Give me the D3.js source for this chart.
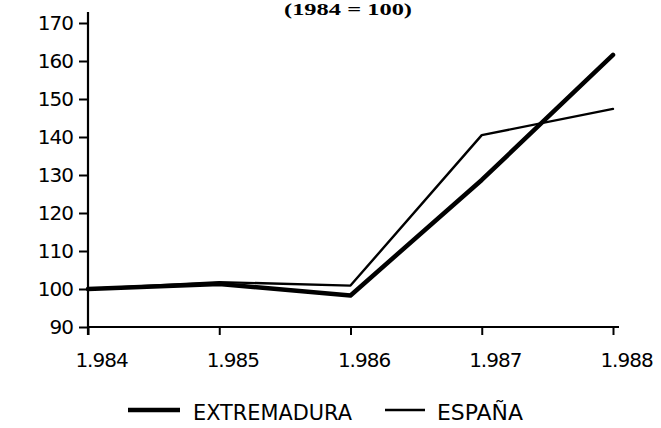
<!DOCTYPE html>
<html>
<head>
<meta charset="utf-8">
<script src="https://cdn.jsdelivr.net/npm/d3@7"></script>
<style>
  html, body { margin: 0; padding: 0; background: #fff; }
  svg { display: block; }
</style>
</head>
<body>
<svg id="chart" width="661" height="428"></svg>
<script>
const years = [1984, 1985, 1986, 1987, 1988];
const yearLabels = ["1.984", "1.985", "1.986", "1.987", "1.988"];
const extremadura = [100, 101.3, 98.3, 128.7, 161.6];
const espana = [100, 101.8, 100.9, 140.5, 147.4];
const yTicks = [90, 100, 110, 120, 130, 140, 150, 160, 170];
const seriesNames = ["EXTREMADURA", "ESPAÑA"];
const title = "(1984 = 100)";

const svg = d3.select("#chart");
const font = "'DejaVu Sans', Lato, sans-serif";

const x = d3.scaleLinear().domain([1984, 1988]).range([88, 613]);
const y = d3.scaleLinear().domain([90, 170]).range([327, 23]);

// title (at the top edge, as in the reference)
svg.append("text")
  .attr("x", 348).attr("y", 15)
  .attr("text-anchor", "middle")
  .attr("font-family", "'Liberation Serif', 'Times New Roman', serif")
  .attr("font-weight", "bold")
  .attr("font-size", 16)
  .attr("fill", "#000")
  .attr("textLength", 128).attr("lengthAdjust", "spacingAndGlyphs")
  .text(title);

// y axis
const yAxis = d3.axisLeft(y).tickValues(yTicks).tickSize(9).tickSizeOuter(0).tickPadding(6);
const gy = svg.append("g").attr("transform", "translate(88,0)").call(yAxis);
gy.select(".domain").remove();
gy.selectAll(".tick line").attr("stroke", "#000").attr("stroke-width", 2);
gy.selectAll(".tick text")
  .attr("font-family", font).attr("font-size", 20).attr("fill", "#000")
  .attr("letter-spacing", -1);
svg.append("line")
  .attr("x1", 88).attr("x2", 88).attr("y1", 12).attr("y2", y(90) + 8)
  .attr("stroke", "#000").attr("stroke-width", 2.2);

// x axis
const xAxis = d3.axisBottom(x).tickValues(years).tickSize(8).tickSizeOuter(0)
  .tickFormat((d, i) => yearLabels[i]).tickPadding(18);
const gx = svg.append("g").attr("transform", `translate(0,${y(90)})`).call(xAxis);
gx.select(".domain").remove();
gx.selectAll(".tick line").attr("stroke", "#000").attr("stroke-width", 2);
gx.selectAll(".tick text")
  .attr("font-family", font).attr("font-size", 20).attr("fill", "#000")
  .attr("letter-spacing", -1)
  .attr("dx", 13);
svg.append("line")
  .attr("x1", 88).attr("x2", 619).attr("y1", y(90)).attr("y2", y(90))
  .attr("stroke", "#000").attr("stroke-width", 2.2);

// lines
const line = d3.line().x((d, i) => x(years[i])).y(d => y(d));
svg.append("path").datum(espana)
  .attr("d", line).attr("fill", "none").attr("stroke", "#000")
  .attr("stroke-width", 2.4).attr("stroke-linejoin", "round").attr("stroke-linecap", "round");
svg.append("path").datum(extremadura)
  .attr("d", line).attr("fill", "none").attr("stroke", "#000")
  .attr("stroke-width", 4.5).attr("stroke-linejoin", "round").attr("stroke-linecap", "round");

// legend
const legend = svg.append("g");
legend.append("line").attr("x1", 128).attr("x2", 180).attr("y1", 410).attr("y2", 410)
  .attr("stroke", "#000").attr("stroke-width", 4.5);
legend.append("text").attr("x", 193).attr("y", 420)
  .attr("font-family", font).attr("font-size", 21).attr("fill", "#000")
  .attr("textLength", 159).attr("lengthAdjust", "spacingAndGlyphs")
  .text(seriesNames[0]);
legend.append("line").attr("x1", 385).attr("x2", 425).attr("y1", 410).attr("y2", 410)
  .attr("stroke", "#000").attr("stroke-width", 2.3);
legend.append("text").attr("x", 437).attr("y", 420)
  .attr("font-family", font).attr("font-size", 21).attr("fill", "#000")
  .attr("textLength", 86).attr("lengthAdjust", "spacingAndGlyphs")
  .text(seriesNames[1]);
</script>
</body>
</html>
